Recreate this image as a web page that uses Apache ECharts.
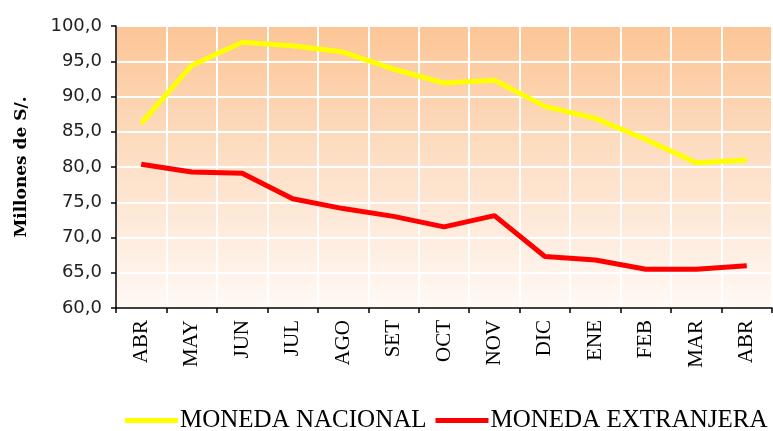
<!DOCTYPE html>
<html lang="es">
<head>
    <meta charset="UTF-8">
    <title>Millones de S/.</title>
    <script src="https://cdn.jsdelivr.net/npm/echarts@6/dist/echarts.min.js"></script>
    <style>
        *{
            padding:0;
            margin:0;
        }
        html,body{
            background:#fff;
        }
        #main{
            width:773px;
            height:431px;
        }
    </style>
</head>
<body>
<div id="main"></div>
<script>
    // meses (abr a abr)
    var meses = ['ABR','MAY','JUN','JUL','AGO','SET','OCT','NOV','DIC','ENE','FEB','MAR','ABR'];
    var monedaNacional = [86.2, 94.4, 97.7, 97.2, 96.3, 93.9, 91.9, 92.3, 88.6, 86.9, 83.9, 80.6, 81.0];
    var monedaExtranjera = [80.4, 79.3, 79.1, 75.5, 74.1, 73.0, 71.5, 73.1, 67.3, 66.8, 65.5, 65.5, 66.0];

    var myChart = echarts.init(document.getElementById('main'));

    var serif = '"Liberation Serif", "DejaVu Serif", serif';

    var option = {
        backgroundColor: '#ffffff',
        animation: false,
        grid: {
            left: 116,
            right: 1,
            top: 26,
            bottom: 123,
            show: true,
            borderColor: '#999999',
            borderWidth: 1,
            backgroundColor: {
                type: 'linear',
                x: 0, y: 0, x2: 0, y2: 1,
                colorStops: [
                    {offset: 0, color: '#fcc595'},
                    {offset: 0.5, color: '#fde0c8'},
                    {offset: 1, color: '#fff9f5'}
                ]
            }
        },
        legend: {
            left: 125,
            top: 408,
            padding: 0,
            icon: 'rect',
            itemWidth: 53,
            itemHeight: 5,
            itemGap: 9,
            textStyle: {
                fontFamily: serif,
                fontSize: 25,
                color: '#000',
                padding: [0, 0, 0, -3]
            },
            data: ['MONEDA NACIONAL', 'MONEDA EXTRANJERA']
        },
        xAxis: {
            type: 'category',
            data: meses,
            boundaryGap: true,
            axisLine: {lineStyle: {color: '#000', width: 1.5}},
            axisTick: {show: true, length: 5, interval: 0, lineStyle: {color: '#000', width: 1.5}},
            splitLine: {show: true, interval: 0, lineStyle: {color: '#ffffff', width: 2}},
            axisLabel: {
                rotate: 90,
                interval: 0,
                margin: 12,
                fontFamily: serif,
                fontSize: 21,
                color: '#000'
            }
        },
        yAxis: {
            type: 'value',
            min: 60,
            max: 100,
            interval: 5,
            name: 'Millones de S/.',
            nameLocation: 'middle',
            nameGap: 86,
            nameTextStyle: {
                fontFamily: '"DejaVu Serif", serif',
                fontWeight: 'bold',
                fontSize: 17,
                color: '#000'
            },
            axisLine: {show: true, lineStyle: {color: '#000', width: 1.5}},
            axisTick: {show: true, length: 5, lineStyle: {color: '#000', width: 1.5}},
            splitLine: {show: true, lineStyle: {color: '#ffffff', width: 2}},
            axisLabel: {
                margin: 14,
                fontFamily: '"DejaVu Sans", sans-serif',
                fontSize: 18,
                color: '#222',
                formatter: function (v) {
                    return v.toFixed(1).replace('.', ',');
                }
            }
        },
        series: [
            {
                name: 'MONEDA NACIONAL',
                type: 'line',
                data: monedaNacional,
                symbol: 'none',
                color: '#ffff00',
                lineStyle: {color: '#ffff00', width: 5}
            },
            {
                name: 'MONEDA EXTRANJERA',
                type: 'line',
                data: monedaExtranjera,
                symbol: 'none',
                color: '#ff0000',
                lineStyle: {color: '#ff0000', width: 5}
            }
        ]
    };
    myChart.setOption(option);
</script>
</body>
</html>
